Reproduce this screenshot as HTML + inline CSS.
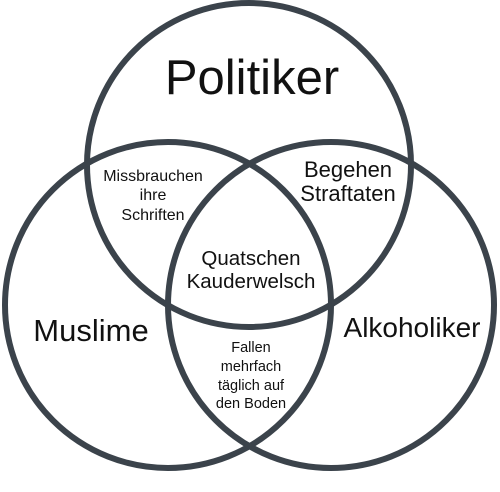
<!DOCTYPE html>
<html><head><style>html,body{margin:0;padding:0;background:#fff;}svg{display:block}</style></head>
<body>
<svg width="500" height="492" xmlns="http://www.w3.org/2000/svg" font-family="Liberation Sans, Arial, sans-serif" text-anchor="middle">
<rect width="500" height="492" fill="#fff"/>
<g fill="none" stroke="#3b434b" stroke-width="6">
<circle cx="249" cy="165" r="162"/>
<circle cx="168" cy="305" r="163"/>
<circle cx="331" cy="305" r="163"/>
</g>
<g fill="#111">
<text x="252" y="94" font-size="49">Politiker</text>
<text x="91" y="341" font-size="31">Muslime</text>
<text x="412" y="337" font-size="28">Alkoholiker</text>
<text x="348" y="177" font-size="22">Begehen</text>
<text x="348" y="201" font-size="22">Straftaten</text>
<text x="153" y="181" font-size="16">Missbrauchen</text>
<text x="153" y="200" font-size="16">ihre</text>
<text x="153" y="220" font-size="16">Schriften</text>
<text x="251" y="265" font-size="20.5">Quatschen</text>
<text x="251" y="288" font-size="20.5">Kauderwelsch</text>
<text x="251" y="352" font-size="14.5">Fallen</text>
<text x="251" y="371" font-size="14.5">mehrfach</text>
<text x="251" y="390" font-size="14.5">täglich auf</text>
<text x="251" y="408" font-size="14.5">den Boden</text>
</g>
</svg>
</body></html>
